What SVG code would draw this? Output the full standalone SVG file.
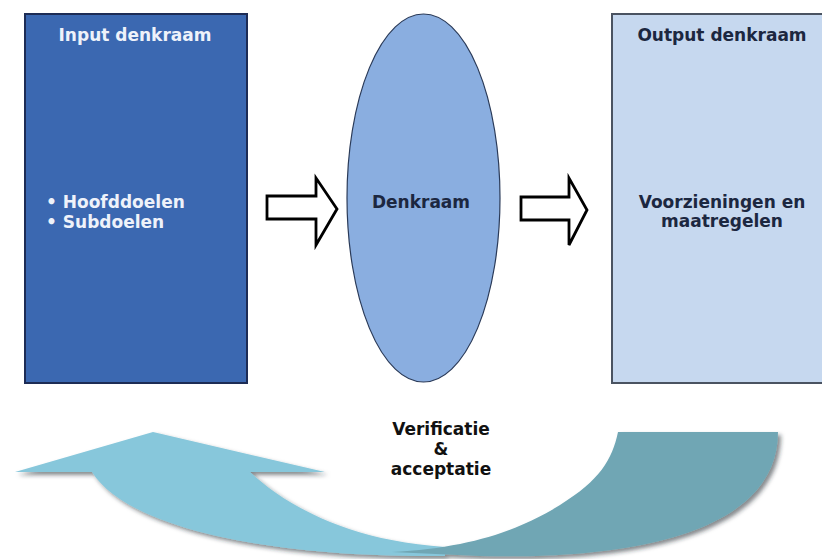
<svg xmlns="http://www.w3.org/2000/svg" width="822" height="559" viewBox="0 0 822 559">
  <style>
    .lbl { font-family: "DejaVu Sans", Verdana, sans-serif; font-weight: bold; font-size: 17px; }
    .white { fill: #eef2fa; }
    .dark { fill: #1c2740; }
    .black { fill: #111111; }
    .mid { text-anchor: middle; }
    .hollow { fill: #ffffff; stroke: #000000; stroke-width: 2.8; stroke-linejoin: miter; }
  </style>
  <defs>
    <filter id="shadow" x="-10%" y="-20%" width="130%" height="150%">
      <feDropShadow dx="3" dy="3" stdDeviation="2" flood-color="#1a2a30" flood-opacity="0.55"/>
    </filter>
  </defs>

  <rect width="822" height="559" fill="#ffffff"/>

  <!-- input panel -->
  <g id="input">
    <rect x="25" y="14" width="222" height="369" fill="#3b68b1" stroke="#1d2c55" stroke-width="2"/>
    <text class="lbl white mid" x="135" y="41">Input denkraam</text>
    <text class="lbl white" x="46" y="207.5">• Hoofddoelen</text>
    <text class="lbl white" x="46" y="227.5">• Subdoelen</text>
  </g>

  <!-- central process -->
  <g id="denkraam">
    <ellipse cx="423.5" cy="198" rx="76.5" ry="184" fill="#8aaee0" stroke="#2a3a58" stroke-width="1.2"/>
    <text class="lbl dark mid" x="421" y="208">Denkraam</text>
  </g>

  <!-- output panel -->
  <g id="output">
    <rect x="612" y="14" width="214" height="369" fill="#c6d8ef" stroke="#4a5361" stroke-width="2"/>
    <text class="lbl dark mid" x="722" y="41">Output denkraam</text>
    <text class="lbl dark mid" x="722" y="208">Voorzieningen en</text>
    <text class="lbl dark mid" x="722" y="227">maatregelen</text>
  </g>

  <g id="connectors">
    <!-- hollow block arrows -->
    <path class="hollow" d="M267,196 L316,196 L316,178 L337,209 L316,245 L316,219 L267,219 Z"/>
    <path class="hollow" d="M521,197 L569,197 L569,178 L587,210 L569,245 L569,220 L521,220 Z"/>

    <!-- feedback loop: light left half with head, dark right half -->
    <g filter="url(#shadow)">
      <path fill="#87c7db" d="M15,472 L153,432 L325,472 L250,472 C280,500 340,540 445,547 L445,556 C258,558 125,525 92,472 Z"/>
      <path fill="#6fa6b4" d="M618,432 L778,432 C778,530 640,560 480,556 L392,552 C470,548 520,530 560,505 C600,480 612,460 618,432 Z"/>
    </g>
  </g>

  <g id="verificatie">
    <text class="lbl black mid" x="441" y="435">Verificatie</text>
    <text class="lbl black mid" x="441" y="455">&amp;</text>
    <text class="lbl black mid" x="441" y="475">acceptatie</text>
  </g>
</svg>
